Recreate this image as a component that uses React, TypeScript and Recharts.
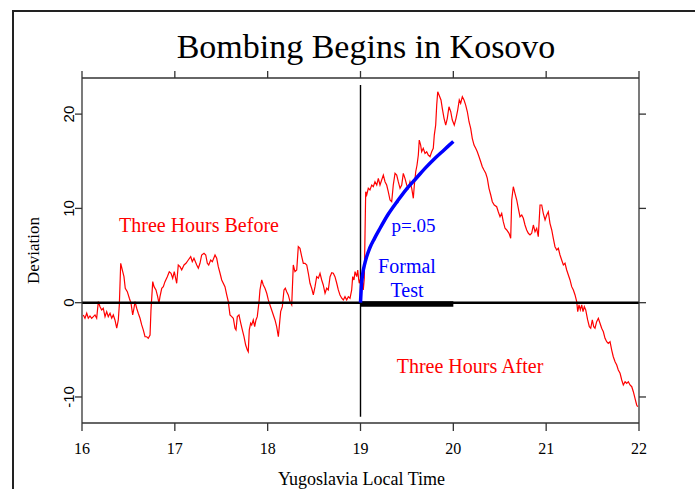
import React from 'react';
import { LineChart, Line, XAxis, YAxis, ReferenceLine, ReferenceDot } from 'recharts';

const hourTicks = [16, 17, 18, 19, 20, 21, 22];
const deviationTicks = [-10, 0, 10, 20];

// [hour, deviation]
const redBeforeA: [number, number][] = [
  [16.014, -1.3], [16.032, -1.65], [16.051, -1.12], [16.068, -1.65], [16.086, -1.41], [16.104, -1.65], [16.122, -1.48], [16.14, -1.3], [16.158, -1.65], [16.176, 0.11],
  [16.194, -0.42], [16.212, -0.77], [16.229, -0.59], [16.248, -1.48], [16.266, -0.95], [16.283, -1.48], [16.302, -1.12], [16.32, -1.65], [16.337, -1.3], [16.355, -1.83],
  [16.374, -2.71], [16.391, -1.83], [16.402, -0.24], [16.417, 4.18], [16.434, 3.47], [16.452, 2.76], [16.466, 1.53], [16.488, 1.17], [16.51, 0.47], [16.528, -0.06],
  [16.546, -1.3], [16.56, -0.59], [16.571, 0.11], [16.589, -0.59], [16.606, -1.12], [16.625, -1.65], [16.643, -2.36], [16.66, -2.89], [16.679, -3.61], [16.697, -3.61],
  [16.714, -3.78], [16.733, -3.43], [16.743, -0.77], [16.762, 2.23], [16.776, 1.7], [16.797, 1.35], [16.815, 0.64], [16.829, -0.06], [16.84, 0.64], [16.859, 1.53],
  [16.876, 1.7], [16.894, 2.23], [16.919, 2.76], [16.94, 3.29], [16.959, 3.12], [16.977, 2.59], [16.994, 3.29], [17.02, 2.06], [17.037, 4.0], [17.056, 3.82],
  [17.074, 3.47], [17.099, 4.0], [17.12, 4.18], [17.145, 4.53], [17.171, 4.88], [17.188, 4.35], [17.206, 4.71], [17.236, 4.0], [17.253, 3.65], [17.271, 4.18],
  [17.289, 5.06], [17.314, 5.24], [17.333, 5.06], [17.35, 4.18], [17.365, 4.0], [17.386, 4.53], [17.404, 4.35], [17.433, 5.06], [17.451, 4.71], [17.468, 3.82],
  [17.487, 3.12], [17.505, 2.41],
];

const redBeforeB: [number, number][] = [
  [17.54, 1.7], [17.559, 0.82], [17.576, 0.11], [17.594, -1.3], [17.613, -1.48], [17.63, -1.65], [17.648, -2.71], [17.659, -2.89], [17.673, -1.48], [17.691, -1.3],
  [17.71, -2.18], [17.727, -2.89], [17.745, -3.61], [17.763, -4.49], [17.781, -5.02], [17.791, -5.2], [17.802, -2.89], [17.817, -2.18], [17.828, -2.36], [17.845, -1.83],
  [17.86, -2.54], [17.874, -1.83], [17.888, -1.48], [17.907, 0.11], [17.917, 1.35], [17.936, 2.41], [17.953, 1.88], [17.971, 1.53], [17.99, 1.0], [18.007, 0.29],
  [18.025, -0.24], [18.043, -0.77], [18.061, -1.3], [18.079, -1.83], [18.097, -2.54], [18.115, -3.61], [18.125, -2.54], [18.14, -0.95], [18.158, -0.42], [18.176, 1.35],
  [18.19, 1.53], [18.205, 1.17], [18.222, 0.82], [18.241, 0.11], [18.259, -0.24], [18.276, 4.0], [18.294, 3.29], [18.313, 3.47], [18.33, 5.94], [18.348, 5.77],
  [18.367, 4.88], [18.384, 4.18], [18.402, 4.18], [18.421, 4.0], [18.438, 3.12], [18.456, 2.06], [18.474, 1.53], [18.492, 0.82], [18.51, 1.7], [18.528, 2.76],
  [18.546, 2.59], [18.564, 3.12], [18.582, 2.41], [18.599, 1.88], [18.618, 1.0], [18.636, 1.53], [18.653, 1.35], [18.672, 2.76], [18.69, 3.18], [18.707, 3.12],
  [18.725, 2.76], [18.744, 2.06], [18.761, 1.35], [18.779, 0.82], [18.798, 0.47], [18.815, 0.29], [18.833, 0.64], [18.851, 0.29], [18.869, 0.64], [18.887, 0.47],
  [18.905, 1.35], [18.916, 2.76], [18.93, 2.41], [18.941, 3.29], [18.959, 2.76], [18.97, 3.47], [18.981, 2.41], [18.987, 2.06],
];

const redAfterA: [number, number][] = [
  [19.013, 2.94], [19.03, 1.35], [19.041, 2.59], [19.056, 11.77], [19.067, 11.42], [19.084, 12.13], [19.102, 11.95], [19.121, 12.48], [19.138, 12.3], [19.156, 12.83],
  [19.175, 12.48], [19.192, 13.19], [19.21, 12.48], [19.228, 13.01], [19.246, 13.54], [19.264, 12.83], [19.282, 12.48], [19.299, 11.77], [19.318, 10.89], [19.336, 10.71],
  [19.353, 12.48], [19.372, 13.72], [19.39, 13.54], [19.407, 12.83], [19.426, 12.13], [19.444, 12.48], [19.461, 13.72], [19.479, 13.19], [19.498, 12.48], [19.515, 12.13],
  [19.533, 12.83], [19.552, 12.13], [19.569, 11.07], [19.58, 12.48], [19.595, 13.89], [19.609, 14.6], [19.623, 15.66], [19.633, 17.25], [19.648, 16.72], [19.659, 16.01],
  [19.676, 16.37], [19.695, 15.84], [19.713, 16.01], [19.73, 15.66], [19.749, 15.48], [19.767, 16.01], [19.784, 16.37], [19.795, 17.78], [19.81, 18.84], [19.821, 20.96],
  [19.832, 22.38], [19.846, 22.03], [19.867, 21.5], [19.881, 20.61], [19.9, 19.55], [19.918, 18.84], [19.935, 19.55], [19.953, 20.78], [19.972, 20.25], [19.989, 19.37],
  [20.01, 18.84], [20.029, 19.55], [20.047, 20.43], [20.064, 21.5], [20.079, 21.15], [20.097, 21.85], [20.115, 21.5], [20.133, 20.96], [20.151, 20.25], [20.169, 19.19],
  [20.187, 18.49], [20.204, 17.43], [20.223, 16.72], [20.241, 16.37], [20.258, 16.01], [20.277, 15.48], [20.295, 14.95], [20.312, 14.42], [20.33, 14.07], [20.349, 13.72],
  [20.366, 13.19], [20.384, 12.13], [20.403, 11.42], [20.42, 10.71], [20.441, 10.36],
];

const redAfterB: [number, number][] = [
  [20.467, 10.18], [20.484, 9.65], [20.503, 9.12], [20.521, 9.48], [20.538, 8.59], [20.557, 7.89], [20.575, 7.71], [20.6, 7.36], [20.618, 6.83], [20.629, 10.89],
  [20.646, 12.3], [20.664, 11.6], [20.683, 10.89], [20.7, 10.01], [20.718, 9.12], [20.737, 9.3], [20.754, 8.95], [20.772, 8.24], [20.79, 7.71], [20.808, 7.36],
  [20.826, 7.18], [20.844, 7.36], [20.862, 8.24], [20.88, 7.53], [20.898, 7.89], [20.915, 7.0], [20.934, 10.36], [20.952, 10.36], [20.969, 9.48], [20.988, 8.77],
  [21.006, 9.3], [21.023, 9.65], [21.041, 8.42], [21.06, 7.71], [21.077, 6.83], [21.095, 5.94], [21.114, 5.59], [21.131, 5.77], [21.149, 5.06], [21.167, 4.53],
  [21.185, 4.0], [21.203, 4.18], [21.221, 3.47], [21.239, 2.94], [21.257, 2.41], [21.275, 1.7], [21.293, 1.35], [21.311, 0.82], [21.329, 0.11], [21.34, -0.95],
  [21.354, -0.24], [21.368, -0.77], [21.383, -0.24], [21.397, -0.95], [21.411, -0.42], [21.426, -0.77], [21.447, -1.83], [21.465, -2.54], [21.48, -2.71], [21.497, -1.83],
  [21.512, -2.54], [21.526, -2.71], [21.544, -2.01], [21.562, -1.65], [21.58, -2.18], [21.598, -2.71], [21.616, -3.08], [21.634, -3.78], [21.652, -4.14], [21.669, -4.31],
  [21.688, -4.14], [21.706, -5.02], [21.723, -5.73], [21.742, -6.26], [21.76, -6.61], [21.777, -7.14], [21.796, -7.49], [21.814, -8.2], [21.831, -8.73], [21.85, -8.38],
  [21.868, -8.55], [21.885, -8.38], [21.903, -8.73], [21.922, -8.91], [21.939, -9.44], [21.957, -10.14], [21.975, -10.85], [21.986, -11.03],
];

// p = .05 boundary of the formal test
const formalTime = [19, 19.01, 19.02, 19.05, 19.1, 19.15, 19.2, 19.3, 19.4, 19.5, 19.6, 19.7, 19.8, 19.9, 20];
const formalBound = [0, 1.8, 2.8, 4.3, 5.8, 6.8, 7.7, 9.4, 10.8, 12.1, 13.2, 14.3, 15.3, 16.2, 17.1];

const eventHour = 19;
const testEndHour = 20;

const redSeries = [...redBeforeA, ...redBeforeB, ...redAfterA, ...redAfterB].map(([x, y]) => ({ x, y }));
const formalSeries = formalTime.map((x, i) => ({ x, y: formalBound[i] }));

const SERIF = '"Liberation Serif", "Times New Roman", serif';
const SANS = '"Liberation Sans", Arial, sans-serif';
const AXIS = '#333';

const BottomTick = (props: any) => {
  const { x, payload } = props;
  return (
    <text x={x} y={454} textAnchor="middle" fontFamily={SERIF} fontSize={16} fill="#000">
      {payload.value}
    </text>
  );
};

const LeftTick = (props: any) => {
  const { y, payload } = props;
  return (
    <text transform={`translate(74,${y}) rotate(-90)`} textAnchor="middle" fontFamily={SANS} fontSize={15} fill="#000">
      {payload.value}
    </text>
  );
};

const NoLabel = () => <g />;

const ann = (value: string, fill: string, size: number) => ({
  value,
  position: 'center' as const,
  fill,
  fontSize: size,
  fontFamily: SERIF,
});

export default function App() {
  return (
    <div style={{ position: 'absolute', left: 0, top: 0, width: 695, height: 489, overflow: 'hidden', background: '#fff' }}>
      <div
        style={{
          position: 'absolute',
          left: 12,
          top: 10,
          width: 760,
          height: 560,
          borderLeft: '2px solid #222',
          borderTop: '2px solid #222',
        }}
      />
      <div style={{ position: 'absolute', left: 0, top: 0 }}>
        <LineChart width={695} height={489} margin={{ top: 68, right: 36, bottom: 26, left: 52 }}>
          <XAxis
            xAxisId="b"
            type="number"
            dataKey="x"
            domain={[16, 22]}
            allowDataOverflow
            ticks={hourTicks}
            orientation="bottom"
            height={40}
            tickSize={8}
            tick={BottomTick}
            axisLine={{ stroke: AXIS, strokeWidth: 1.3 }}
            tickLine={{ stroke: AXIS, strokeWidth: 1.3 }}
          />
          <XAxis
            xAxisId="t"
            type="number"
            dataKey="x"
            domain={[16, 22]}
            allowDataOverflow
            ticks={hourTicks}
            orientation="top"
            height={10}
            tickSize={7}
            tick={NoLabel}
            axisLine={{ stroke: AXIS, strokeWidth: 1.3 }}
            tickLine={{ stroke: AXIS, strokeWidth: 1.3 }}
          />
          <YAxis
            yAxisId="l"
            type="number"
            domain={[-12.76, 23.83]}
            allowDataOverflow
            ticks={deviationTicks}
            width={30}
            tickSize={7}
            tick={LeftTick}
            axisLine={{ stroke: AXIS, strokeWidth: 1.3 }}
            tickLine={{ stroke: AXIS, strokeWidth: 1.3 }}
          />
          <YAxis
            yAxisId="r"
            orientation="right"
            type="number"
            domain={[-12.76, 23.83]}
            allowDataOverflow
            ticks={deviationTicks}
            width={20}
            tickSize={7}
            tick={NoLabel}
            axisLine={{ stroke: AXIS, strokeWidth: 1.3 }}
            tickLine={{ stroke: AXIS, strokeWidth: 1.3 }}
          />
          <Line
            xAxisId="b"
            yAxisId="l"
            data={redSeries}
            dataKey="y"
            type="linear"
            stroke="#ff0000"
            strokeWidth={1.2}
            dot={false}
            isAnimationActive={false}
          />
          <ReferenceLine xAxisId="b" yAxisId="l" y={0} stroke="#000" strokeWidth={2.5} />
          <ReferenceLine
            xAxisId="b"
            yAxisId="l"
            segment={[{ x: eventHour, y: 23.1 }, { x: eventHour, y: -12.1 }]}
            stroke="#000"
            strokeWidth={1.4}
          />
          <ReferenceLine
            xAxisId="b"
            yAxisId="l"
            segment={[{ x: eventHour, y: -0.15 }, { x: testEndHour, y: -0.15 }]}
            stroke="#000"
            strokeWidth={5.5}
          />
          <Line
            xAxisId="b"
            yAxisId="l"
            data={formalSeries}
            dataKey="y"
            type="monotone"
            stroke="#0000ff"
            strokeWidth={3.5}
            dot={false}
            isAnimationActive={false}
          />
          <ReferenceDot xAxisId="b" yAxisId="l" x={17.26} y={8.28} r={0} fill="none" stroke="none" label={ann('Three Hours Before', '#ff0000', 20)} />
          <ReferenceDot xAxisId="b" yAxisId="l" x={20.18} y={-6.73} r={0} fill="none" stroke="none" label={ann('Three Hours After', '#ff0000', 20)} />
          <ReferenceDot xAxisId="b" yAxisId="l" x={19.571} y={8.25} r={0} fill="none" stroke="none" label={ann('p=.05', '#0000ff', 19)} />
          <ReferenceDot xAxisId="b" yAxisId="l" x={19.501} y={3.9} r={0} fill="none" stroke="none" label={ann('Formal', '#0000ff', 20)} />
          <ReferenceDot xAxisId="b" yAxisId="l" x={19.501} y={1.39} r={0} fill="none" stroke="none" label={ann('Test', '#0000ff', 20)} />
        </LineChart>
      </div>
      <div
        style={{
          position: 'absolute',
          left: 166,
          top: 29.5,
          width: 400,
          textAlign: 'center',
          fontFamily: SERIF,
          fontSize: 34,
          lineHeight: '34px',
          whiteSpace: 'nowrap',
          color: '#000',
        }}
      >
        Bombing Begins in Kosovo
      </div>
      <div
        style={{
          position: 'absolute',
          left: 211.5,
          top: 470,
          width: 300,
          textAlign: 'center',
          fontFamily: SERIF,
          fontSize: 18,
          lineHeight: '18px',
          whiteSpace: 'nowrap',
          color: '#000',
        }}
      >
        Yugoslavia Local Time
      </div>
      <div
        style={{
          position: 'absolute',
          left: 33 - 100,
          top: 250 - 8.5,
          width: 200,
          height: 17,
          textAlign: 'center',
          fontFamily: SERIF,
          fontSize: 17,
          lineHeight: '17px',
          whiteSpace: 'nowrap',
          color: '#000',
          transform: 'rotate(-90deg)',
          transformOrigin: '50% 50%',
        }}
      >
        Deviation
      </div>
    </div>
  );
}
